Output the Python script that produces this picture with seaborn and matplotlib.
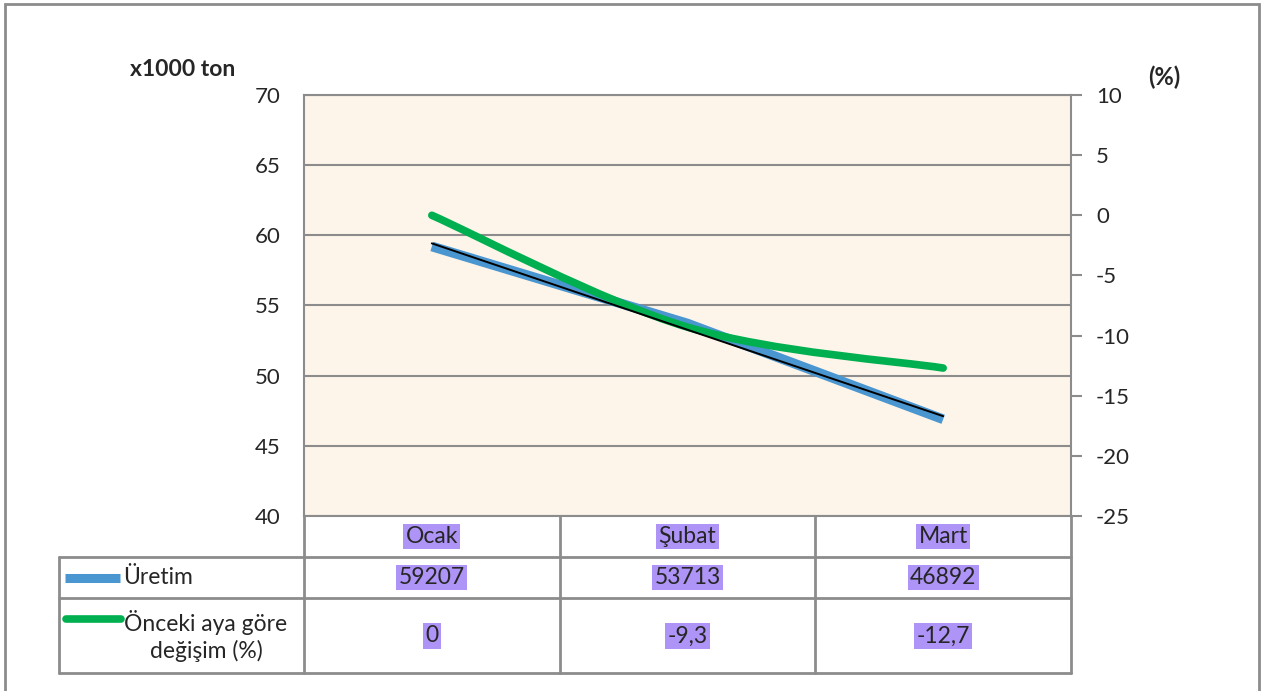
import numpy as np
import pandas as pd
import matplotlib
matplotlib.use("Agg")
import matplotlib.pyplot as plt
import matplotlib.transforms as mtransforms
from matplotlib.path import Path
from matplotlib.patches import PathPatch, Rectangle
from matplotlib.lines import Line2D
import seaborn as sns

# data
months = ["Ocak", "Şubat", "Mart"]
uretim = [59207, 53713, 46892]          # ton
degisim = [0, -9.3, -12.7]              # %
degisim_labels = ["0", "-9,3", "-12,7"]
left_ticks = [40, 45, 50, 55, 60, 65, 70]
right_ticks = [-25, -20, -15, -10, -5, 0, 5, 10]

sns.set_style("white")
plt.rcParams["font.family"] = ["Lato", "DejaVu Sans"]
plt.rcParams["axes.unicode_minus"] = False

BLUE = "#4a96d0"
GREEN = "#00b050"
GREY = "#8c8c8c"
BG = "#fdf4ea"
HILITE = "#ae94f6"

W, H = 1262, 691
fig = plt.figure(figsize=(W / 100, H / 100), dpi=100)
ax = fig.add_axes([304 / W, (H - 516) / H, (1071 - 304) / W, (516 - 95) / H])
ax.set_facecolor(BG)

df = pd.DataFrame({"x": np.arange(len(months)), "uretim": np.array(uretim) / 1000})

# Üretim line
sns.lineplot(data=df, x="x", y="uretim", ax=ax, color=BLUE, lw=7,
             solid_capstyle="butt", zorder=2)

# linear trend of Üretim
coef = np.polyfit(df["x"], df["uretim"], 1)
xs = np.array([df["x"].min(), df["x"].max()])
sns.lineplot(x=xs, y=np.polyval(coef, xs), ax=ax, color="black", lw=1.4, zorder=4)

ax.set_xlim(-0.5, len(months) - 0.5)
ax.set_ylim(40, 70)
ax.set_yticks(left_ticks)
ax.set_xticks([])
ax.set_xlabel("")
ax.set_ylabel("")
ax.yaxis.grid(True, color=GREY, lw=1.5)
ax.set_axisbelow(True)
ax.tick_params(axis="y", length=0, pad=17, labelsize=16)
for s in ax.spines.values():
    s.set_color(GREY)
    s.set_linewidth(1.5)

# right axis
ax2 = ax.twinx()
ax2.set_ylim(-25, 10)
ax2.set_yticks(right_ticks)
ax2.tick_params(axis="y", direction="out", length=8, width=1.5, color=GREY,
                pad=10, labelsize=16)
for s in ax2.spines.values():
    s.set_visible(False)

# smoothed (Excel-like) line for değişim, drawn in ax2 data space
pts = np.column_stack([df["x"], degisim])
n = len(pts)
verts = [pts[0]]
codes = [Path.MOVETO]
for i in range(n - 1):
    prev = pts[max(i - 1, 0)]
    nxt = pts[min(i + 2, n - 1)]
    c1 = pts[i] + (pts[i + 1] - prev) / 6
    c2 = pts[i + 1] - (nxt - pts[i]) / 6
    verts += [c1, c2, pts[i + 1]]
    codes += [Path.CURVE4] * 3
ax.add_patch(PathPatch(Path(verts, codes), transform=ax2.transData, fill=False,
                       edgecolor=GREEN, lw=5.5, capstyle="round", zorder=3))

# axis titles
fig.text(130 / W, 1 - 70 / H, "x1000 ton", fontsize=16.5, fontweight="bold",
         ha="left", va="center")
fig.text(1148 / W, 1 - 77 / H, "(%)", fontsize=17, fontweight="bold",
         ha="left", va="center")

# data table under the plot
tr = mtransforms.blended_transform_factory(ax.transData, ax.transAxes)
x_lab = -0.5 - (304 - 59) / (1071 - 304) * len(months)
rows_y = [0, -0.0974, -0.1948, -0.3729]
line_kw = dict(color=GREY, lw=2, transform=tr, clip_on=False)
for yv in rows_y[1:]:
    ax.add_line(Line2D([x_lab, len(months) - 0.5], [yv, yv], **line_kw))
ax.add_line(Line2D([x_lab, x_lab], [rows_y[1], rows_y[3]], **line_kw))
for xb in np.arange(len(months) + 1) - 0.5:
    ax.add_line(Line2D([xb, xb], [rows_y[0], rows_y[3]], **line_kw))

FS = 16.5
box = dict(boxstyle="square,pad=0.1", facecolor=HILITE, edgecolor="none")
for i, m in enumerate(months):
    ax.text(i, (rows_y[0] + rows_y[1]) / 2, m, transform=tr, ha="center",
            va="center", fontsize=FS, bbox=box)
    ax.text(i, (rows_y[1] + rows_y[2]) / 2, str(uretim[i]), transform=tr,
            ha="center", va="center", fontsize=FS, bbox=box)
    ax.text(i, -0.285, degisim_labels[i], transform=tr, ha="center",
            va="center", fontsize=FS, bbox=box)

# legend keys and row labels
ax_tr = ax.transAxes
def px_x(x):
    return (x - 304) / (1071 - 304)
def px_y(y):
    return (516 - y) / (516 - 95)
ax.add_line(Line2D([px_x(65), px_x(120)], [px_y(578), px_y(578)], color=BLUE,
                   lw=6.5, solid_capstyle="butt", transform=ax_tr, clip_on=False))
ax.add_line(Line2D([px_x(66), px_x(121)], [px_y(619), px_y(619)], color=GREEN,
                   lw=5.5, solid_capstyle="round", transform=ax_tr, clip_on=False))
ax.text(px_x(123), px_y(578), "Üretim", transform=ax_tr, ha="left", va="center",
        fontsize=FS)
ax.text(px_x(206), px_y(636), "Önceki aya göre\ndeğişim (%)", transform=ax_tr,
        ha="center", va="center", fontsize=FS, linespacing=1.3)

# outer chart border
fig.add_artist(Rectangle((5 / W, -0.02), (1259 - 5) / W, 1.02 - 4 / H,
                         transform=fig.transFigure, fill=False,
                         edgecolor=GREY, lw=2))

fig.savefig("out.png", dpi=100)
